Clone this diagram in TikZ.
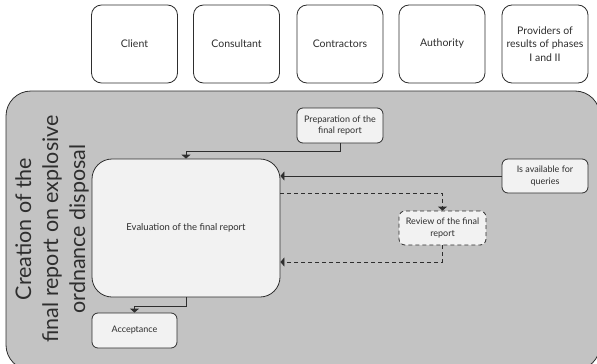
\documentclass[tikz,border=0pt]{standalone}
\usepackage{fontspec}
\setmainfont{Lato}
\usetikzlibrary{arrows.meta}
\definecolor{panelgray}{HTML}{C3C3C3}
\definecolor{boxfill}{HTML}{F2F2F2}
\definecolor{inkgray}{HTML}{2E2E2E}
\tikzset{
  roleBox/.style={draw=inkgray, line width=0.8pt, fill=white, rounded corners=10pt,
    minimum width=86pt, minimum height=78pt, align=center, text=inkgray,
    font=\fontsize{10.5}{13.5}\selectfont, inner sep=2pt},
  stepBox/.style={draw=inkgray, line width=0.8pt, fill=boxfill, rounded corners=6pt,
    align=center, text=inkgray, font=\fontsize{9}{11.5}\selectfont, inner sep=2pt},
  flow/.style={draw=inkgray, line width=0.8pt, -{Triangle[length=4pt,width=9pt]}},
  dflow/.style={flow, dash pattern=on 4pt off 3pt}
}
\begin{document}
\begin{tikzpicture}[x=1pt,y=-1pt]
\useasboundingbox (0,0) rectangle (597,364);
% process panel
\draw[draw=inkgray, line width=0.8pt, fill=panelgray, rounded corners=25pt] (6,91) rectangle (600,370);

% participants
\node[roleBox] (client) at (134.5,44) {Client};
\node[roleBox] (consultant) at (236.5,44) {Consultant};
\node[roleBox] (contractors) at (340,44) {Contractors};
\node[roleBox] (authority) at (442,44) {Authority};
\node[roleBox] (providers) at (545,44) {Providers of\\results of phases\\I and II};

% panel title
\node[rotate=90, align=center, text=inkgray, font=\fontsize{21.5}{27}\selectfont] (title) at (52,229)
  {Creation of the\\final report on explosive\\ordnance disposal};

% process steps
\node[stepBox, rounded corners=20pt, minimum width=188pt, minimum height=138pt,
  font=\fontsize{9.5}{12}\selectfont] (eval) at (186,228) {Evaluation of the final report};
\node[stepBox, minimum width=85pt, minimum height=35pt] (accept) at (134.5,330.5) {Acceptance};
\node[stepBox, minimum width=86pt, minimum height=35pt] (prep) at (340,125.5) {Preparation of the\\final report};
\node[stepBox, minimum width=86pt, minimum height=34pt] (avail) at (545,176) {Is available for\\queries};
\node[stepBox, dash pattern=on 4pt off 3pt, minimum width=87pt, minimum height=34pt] (review) at (442.5,228) {Review of the final\\report};

% connectors
\draw[flow] (prep.south) -- ++(0,8) -| (eval.north);
\draw[flow] (avail.west) -- (avail.west -| eval.east);
\draw[dflow] ([yshift=35pt]eval.east) -| (review.north);
\draw[dflow] (review.south) |- ([yshift=-34pt]eval.east);
\draw[flow] (eval.south) -- ++(0,9) -| (accept.north);
\end{tikzpicture}
\end{document}
